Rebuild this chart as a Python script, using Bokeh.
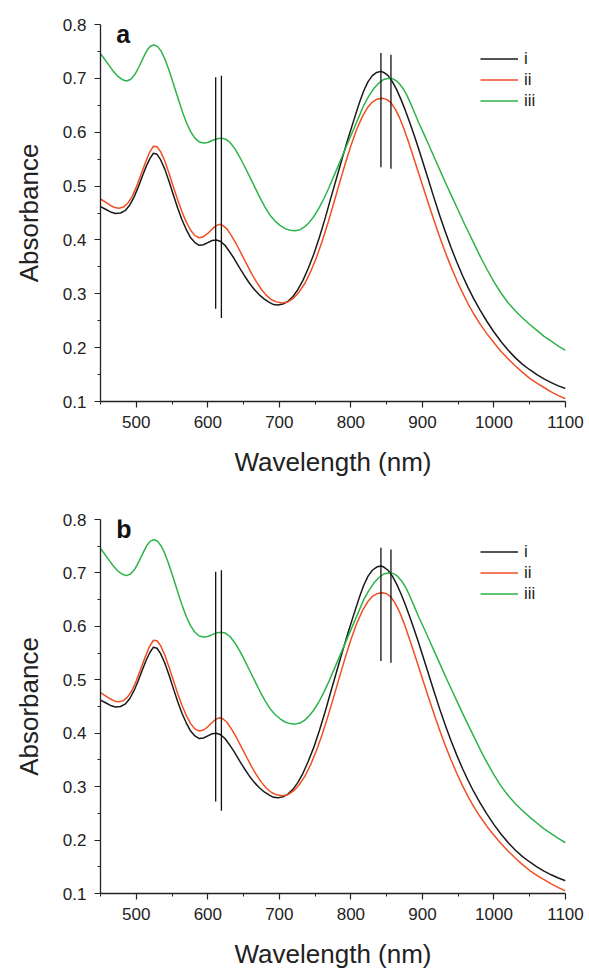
from bokeh.plotting import figure
from bokeh.layouts import column
from bokeh.models import Range1d, FixedTicker, Label
from bokeh.embed import file_html
from bokeh.resources import INLINE

# ---- data ----
wl_i = [450, 457, 464, 471, 478, 485, 491, 497, 503, 509, 514, 519, 524, 529, 534, 540, 546, 552, 558, 564,
        570, 576, 582, 588, 594, 600, 606, 612, 618, 624, 630, 637, 644, 651, 658, 665, 672, 679, 686, 692,
        698, 705, 712, 719, 726, 733, 740, 748, 756, 764, 772, 780, 788, 796, 804, 812, 818, 824, 830, 836,
        842, 846, 852, 858, 864, 870, 876, 882, 888, 894, 900, 908, 916, 924, 932, 940, 948, 956, 964, 972,
        980, 990, 1000, 1010, 1020, 1030, 1040, 1050, 1060, 1070, 1080, 1090, 1100]
abs_i = [0.462, 0.457, 0.452, 0.449, 0.450, 0.455, 0.465, 0.480, 0.499, 0.520, 0.537, 0.551, 0.561, 0.559,
         0.549, 0.531, 0.508, 0.483, 0.459, 0.437, 0.419, 0.404, 0.395, 0.390, 0.391, 0.395, 0.399, 0.400,
         0.397, 0.390, 0.379, 0.365, 0.349, 0.334, 0.320, 0.308, 0.298, 0.290, 0.284, 0.280, 0.279, 0.281,
         0.286, 0.295, 0.308, 0.325, 0.346, 0.373, 0.405, 0.440, 0.478, 0.515, 0.552, 0.588, 0.622, 0.655,
         0.677, 0.694, 0.705, 0.711, 0.713, 0.711, 0.705, 0.694, 0.679, 0.661, 0.641, 0.619, 0.596, 0.572,
         0.547, 0.513, 0.479, 0.446, 0.415, 0.386, 0.359, 0.334, 0.311, 0.290, 0.271, 0.249, 0.229, 0.211,
         0.195, 0.181, 0.169, 0.159, 0.150, 0.142, 0.135, 0.129, 0.124]

wl_ii = [450, 457, 464, 470, 476, 482, 488, 494, 500, 506, 512, 518, 524, 529, 534, 540, 546, 552, 558, 564,
         570, 576, 582, 588, 594, 600, 606, 611, 616, 621, 627, 633, 640, 647, 654, 661, 668, 675, 682, 689,
         696, 704, 712, 720, 728, 736, 744, 752, 760, 768, 776, 784, 792, 800, 808, 816, 824, 830, 836, 844,
         850, 856, 862, 868, 874, 880, 886, 892, 900, 908, 916, 924, 932, 940, 948, 956, 964, 972, 980, 990,
         1000, 1010, 1020, 1030, 1040, 1050, 1060, 1070, 1080, 1090, 1100]
abs_ii = [0.476, 0.470, 0.464, 0.460, 0.459, 0.461, 0.468, 0.480, 0.498, 0.519, 0.541, 0.561, 0.574, 0.573,
          0.564, 0.546, 0.523, 0.498, 0.474, 0.452, 0.433, 0.418, 0.408, 0.404, 0.406, 0.412, 0.420, 0.426,
          0.429, 0.427, 0.420, 0.408, 0.392, 0.374, 0.356, 0.338, 0.322, 0.308, 0.297, 0.289, 0.285, 0.283,
          0.285, 0.292, 0.304, 0.320, 0.342, 0.368, 0.398, 0.432, 0.468, 0.505, 0.541, 0.575, 0.605, 0.629,
          0.647, 0.656, 0.661, 0.663, 0.661, 0.655, 0.643, 0.627, 0.607, 0.584, 0.560, 0.535, 0.502, 0.469,
          0.437, 0.406, 0.377, 0.350, 0.325, 0.302, 0.281, 0.262, 0.245, 0.226, 0.209, 0.193, 0.179, 0.166,
          0.154, 0.143, 0.134, 0.126, 0.118, 0.111, 0.105]

wl_iii = [450, 456, 462, 468, 474, 480, 486, 492, 498, 504, 510, 515, 520, 525, 530, 535, 540, 545, 550, 555,
          560, 565, 570, 576, 582, 588, 594, 600, 607, 613, 619, 625, 631, 638, 645, 652, 659, 666, 673, 680,
          687, 694, 701, 708, 715, 722, 729, 736, 742, 748, 755, 762, 769, 776, 783, 790, 797, 804, 811, 818,
          825, 832, 839, 846, 853, 859, 865, 871, 877, 883, 889, 895, 902, 910, 918, 926, 934, 942, 950, 958,
          966, 974, 982, 990, 1000, 1010, 1020, 1030, 1040, 1050, 1060, 1070, 1080, 1090, 1100]
abs_iii = [0.746, 0.735, 0.724, 0.713, 0.704, 0.698, 0.695, 0.698, 0.707, 0.722, 0.739, 0.752, 0.760, 0.762,
           0.759, 0.750, 0.736, 0.718, 0.698, 0.677, 0.656, 0.636, 0.618, 0.601, 0.589, 0.582, 0.580, 0.581,
           0.585, 0.588, 0.589, 0.587, 0.581, 0.569, 0.553, 0.535, 0.516, 0.497, 0.478, 0.461, 0.446, 0.435,
           0.427, 0.421, 0.418, 0.417, 0.419, 0.425, 0.433, 0.443, 0.458, 0.476, 0.496, 0.518, 0.540, 0.562,
           0.584, 0.606, 0.628, 0.650, 0.667, 0.681, 0.691, 0.698, 0.700, 0.699, 0.694, 0.685, 0.672, 0.655,
           0.636, 0.617, 0.597, 0.573, 0.549, 0.525, 0.501, 0.478, 0.455, 0.432, 0.410, 0.388, 0.366, 0.346,
           0.322, 0.301, 0.283, 0.268, 0.255, 0.243, 0.232, 0.221, 0.212, 0.203, 0.195]

# vertical marker lines (peak positions)
marker_x = [611, 619, 842, 856]
marker_top = [0.702, 0.705, 0.747, 0.744]
marker_bottom = [0.272, 0.255, 0.535, 0.532]

series_names = ["i", "ii", "iii"]
series_colors = ["#1a1a1a", "#f04e23", "#2db34a"]

x_ticks = [500, 600, 700, 800, 900, 1000, 1100]
x_minor = [450, 550, 650, 750, 850, 950, 1050]
y_ticks = [0.1, 0.2, 0.3, 0.4, 0.5, 0.6, 0.7, 0.8]
y_minor = [0.15, 0.25, 0.35, 0.45, 0.55, 0.65, 0.75]

panel_letters = ["a", "b"]

FONT = "Liberation Sans"
TXT = "#222222"


def make_panel(letter, height, border_top, border_bottom, legend_y):
    p = figure(width=585, height=height, output_backend="svg", toolbar_location=None,
               x_range=Range1d(450, 1100), y_range=Range1d(0.1, 0.8),
               min_border_left=100, min_border_right=20,
               min_border_top=border_top, min_border_bottom=border_bottom)
    p.outline_line_color = None
    p.xgrid.visible = False
    p.ygrid.visible = False
    p.background_fill_color = "white"
    p.border_fill_color = "white"

    for wl, ab, name, col in zip([wl_i, wl_ii, wl_iii], [abs_i, abs_ii, abs_iii], series_names, series_colors):
        p.line(wl, ab, line_color=col, line_width=1.5, legend_label=name, line_join="round")

    p.segment(x0=marker_x, y0=marker_bottom, x1=marker_x, y1=marker_top,
              line_color="#111111", line_width=1.3)

    for ax, ticks, minor in [(p.xaxis[0], x_ticks, x_minor), (p.yaxis[0], y_ticks, y_minor)]:
        ax.ticker = FixedTicker(ticks=ticks, minor_ticks=minor)
        ax.axis_line_color = "#222222"
        ax.axis_line_width = 1.3
        ax.major_tick_line_color = "#222222"
        ax.minor_tick_line_color = "#222222"
        ax.major_tick_line_width = 1.2
        ax.minor_tick_line_width = 1.0
        ax.major_tick_in = 0
        ax.major_tick_out = 6
        ax.minor_tick_in = 0
        ax.minor_tick_out = 3
        ax.major_label_text_font = FONT
        ax.major_label_text_font_size = "17px"
        ax.major_label_text_color = TXT
        ax.axis_label_text_font = FONT
        ax.axis_label_text_font_size = "26px"
        ax.axis_label_text_font_style = "normal"
        ax.axis_label_text_color = TXT

    p.xaxis[0].axis_label = "Wavelength (nm)"
    p.xaxis[0].major_label_standoff = 8
    p.xaxis[0].axis_label_standoff = 16
    p.yaxis[0].axis_label = "Absorbance"
    p.yaxis[0].major_label_standoff = 8
    p.yaxis[0].axis_label_standoff = 16
    p.yaxis[0].formatter.use_scientific = False

    leg = p.legend[0]
    leg.location = (380, legend_y)
    leg.border_line_color = None
    leg.background_fill_alpha = 0
    leg.padding = 0
    leg.margin = 0
    leg.spacing = 0
    leg.glyph_width = 38
    leg.glyph_height = 21
    leg.label_height = 21
    leg.label_standoff = 6
    leg.label_text_font = FONT
    leg.label_text_font_size = "17px"
    leg.label_text_color = TXT

    lab = Label(x=472, y=0.783, text=letter, text_font=FONT, text_font_size="25px",
                text_font_style="bold", text_color="#111111", text_align="left",
                text_baseline="alphabetic")
    p.add_layout(lab)
    return p


p1 = make_panel(panel_letters[0], 485, 24, 84, 290)
p2 = make_panel(panel_letters[1], 486, 34, 77, 289)

layout = column(p1, p2, spacing=0)
open("out.html", "w").write(file_html(layout, INLINE))
